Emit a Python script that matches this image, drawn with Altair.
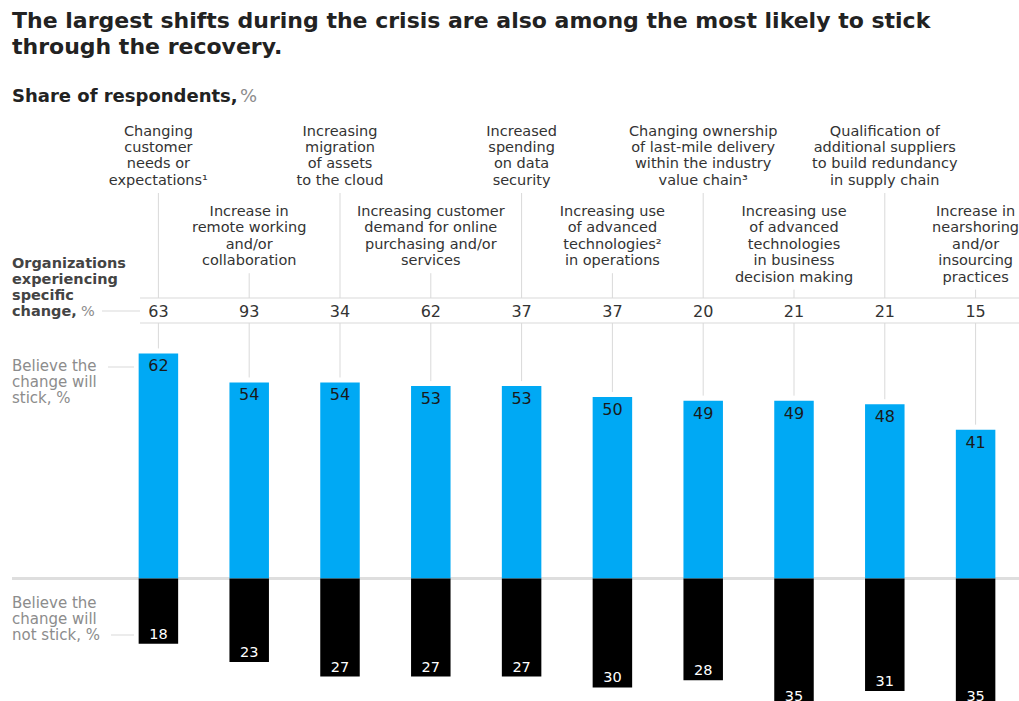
import altair as alt
import pandas as pd

# ---------------- data ----------------
categories = [
    "Changing\ncustomer\nneeds or\nexpectations¹",
    "Increase in\nremote working\nand/or\ncollaboration",
    "Increasing\nmigration\nof assets\nto the cloud",
    "Increasing customer\ndemand for online\npurchasing and/or\nservices",
    "Increased\nspending\non data\nsecurity",
    "Increasing use\nof advanced\ntechnologies²\nin operations",
    "Changing ownership\nof last-mile delivery\nwithin the industry\nvalue chain³",
    "Increasing use\nof advanced\ntechnologies\nin business\ndecision making",
    "Qualification of\nadditional suppliers\nto build redundancy\nin supply chain",
    "Increase in\nnearshoring\nand/or\ninsourcing\npractices",
]
experiencing = [63, 93, 34, 62, 37, 37, 20, 21, 21, 15]
will_stick = [62, 54, 54, 53, 53, 50, 49, 49, 48, 41]
will_not_stick = [18, 23, 27, 27, 27, 30, 28, 35, 31, 35]

title_lines = [
    "The largest shifts during the crisis are also among the most likely to stick",
    "through the recovery.",
]
subtitle = "Share of respondents,"
row_label = "Organizations\nexperiencing\nspecific\nchange,"
stick_label = "Believe the\nchange will\nstick, %"
not_stick_label = "Believe the\nchange will\nnot stick, %"

# ---------------- layout ----------------
FONT = "DejaVu Sans"
W, H_TOTAL = 1019, 701
TOP = 64
H = H_TOTAL - TOP
BASE_PAGE = 578.5
PXU = 3.63  # pixels per percentage point
Y_HI = (BASE_PAGE - TOP) / PXU
Y_LO = -(H_TOTAL - BASE_PAGE) / PXU
LH = 16.4
UP_Y, LO_Y = 135.5, 216
ROW_TOP, ROW_BOT = 298, 323

BLUE = "#00a9f4"
LINE = "#d9d9d9"
GREY = "#8c8c8c"
DARK = "#333333"


def py(p):
    return p - TOP


def px_to_val(p):
    return (BASE_PAGE - p) / PXU


df = pd.DataFrame({
    "cat": categories,
    "exp": experiencing,
    "stick": will_stick,
    "notstick": will_not_stick,
})
df["idx"] = range(len(df))
df["neg"] = -df["notstick"]
df["zero"] = 0
nlines = [c.count("\n") + 1 for c in categories]
df["leadA"] = [px_to_val(193) if i % 2 == 0 else px_to_val(LO_Y + (n - 1) * LH + 8)
               for i, n in zip(df["idx"], nlines)]
df["rowTop"] = px_to_val(ROW_TOP)
df["rowBot"] = px_to_val(ROW_BOT)
df["leadB"] = df["stick"] + 5 / PXU

xscale = alt.Scale(type="band", domain=categories, range=[113, 1021],
                   paddingInner=0.565, paddingOuter=0.2825)
yscale = alt.Scale(domain=[Y_LO, Y_HI], nice=False, zero=False)
X = alt.X("cat:N", scale=xscale, axis=None)


def Y(field):
    return alt.Y(field, type="quantitative", scale=yscale, axis=None)


base = alt.Chart(df)


def hline(x1, x2, y, color=LINE, sw=1):
    return alt.Chart(pd.DataFrame({"a": [0]})).mark_rule(color=color, strokeWidth=sw).encode(
        x=alt.value(x1), x2=alt.value(x2), y=alt.value(py(y)))


def note(text, x, y, size=13, color=DARK, weight="normal", lh=16):
    return alt.Chart(pd.DataFrame({"t": [text]})).mark_text(
        align="left", baseline="alphabetic", lineBreak="\n", lineHeight=lh,
        font=FONT, fontSize=size, color=color, fontWeight=weight,
    ).encode(x=alt.value(x), y=alt.value(py(y)), text="t:N")


leadA = base.mark_rule(color=LINE, strokeWidth=1).encode(
    x=X, y=Y("leadA"), y2="rowTop:Q")
leadB = base.mark_rule(color=LINE, strokeWidth=1).encode(
    x=X, y=Y("leadB"), y2="rowBot:Q")

baseline = base.mark_rule(color="#dedede", strokeWidth=2).encode(
    x=alt.value(12), x2=alt.value(W), y=Y("zero"))

bars_up = base.mark_bar(color=BLUE, clip=True).encode(
    x=X, y=Y("stick"), y2="zero:Q")
bars_down = base.mark_bar(color="#000000", clip=True).encode(
    x=X, y=Y("neg"), y2="zero:Q")

lab_up = base.mark_text(baseline="top", dy=5, font=FONT, fontSize=16, color="#1a1a1a").encode(
    x=X, y=Y("stick"), text="stick:Q")
lab_down = base.mark_text(baseline="alphabetic", dy=-5, font=FONT, fontSize=14.5,
                          color="#ffffff").encode(
    x=X, y=Y("neg"), text="notstick:Q")

row_vals = base.mark_text(baseline="alphabetic", font=FONT, fontSize=16, color=DARK).encode(
    x=X, y=alt.value(py(317)), text="exp:Q")

cat_up = base.transform_filter("datum.idx % 2 == 0").mark_text(
    baseline="alphabetic", lineBreak="\n", lineHeight=LH, font=FONT, fontSize=14.5, color=DARK
).encode(x=X, y=alt.value(py(UP_Y)), text="cat:N")
cat_lo = base.transform_filter("datum.idx % 2 == 1").mark_text(
    baseline="alphabetic", lineBreak="\n", lineHeight=LH, font=FONT, fontSize=14.5, color=DARK
).encode(x=X, y=alt.value(py(LO_Y)), text="cat:N")

layers = [
    hline(140, W, ROW_TOP),
    hline(140, W, ROW_BOT),
    hline(102, 140, 311),
    hline(108, 134, 367),
    hline(111, 134, 635),
    leadA, leadB, baseline,
    bars_up, bars_down, lab_up, lab_down, row_vals, cat_up, cat_lo,
    note(subtitle, 12, 101.5, size=18, color="#222222", weight="bold"),
    note("%", 240, 101.5, size=18, color=GREY),
    note(row_label, 12, 268, size=14.5, color="#444444", weight="bold"),
    note("%", 81, 316, size=14.5, color=GREY),
    note(stick_label, 12, 371, size=15, color=GREY),
    note(not_stick_label, 12, 608, size=15, color=GREY),
]

chart = alt.layer(*layers).properties(
    width=W, height=H,
    padding={"left": 0, "right": 0, "top": TOP, "bottom": 0},
    autosize=alt.AutoSizeParams(type="none"),
    title=alt.TitleParams(
        text=title_lines, anchor="start", frame="group", dx=12, offset=5,
        font=FONT, fontSize=22, fontWeight="bold", color="#222222", lineHeight=26,
    ),
).configure_view(stroke=None)

chart.save("out.html", embed_options={"renderer": "svg", "actions": False})
